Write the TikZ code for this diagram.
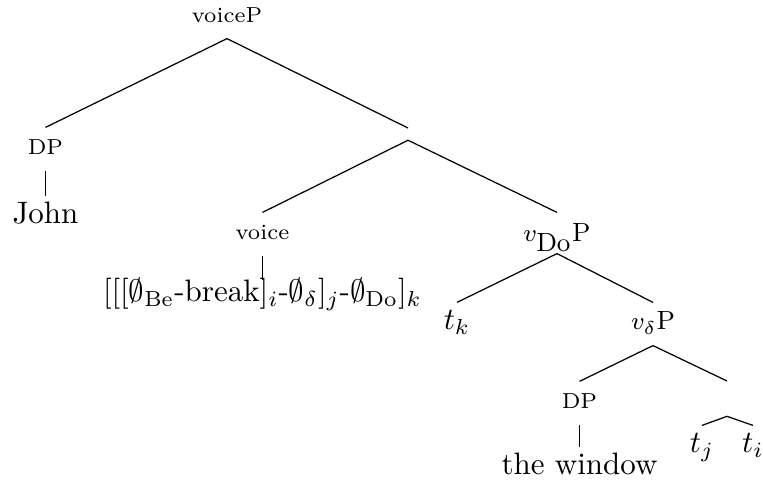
\documentclass[tikz,border=0pt]{standalone}
\usepackage{amsmath}
\begin{document}
\begin{tikzpicture}[x=0.3226pt,y=-0.3226pt,
  lab/.style={inner sep=0pt, font=\scriptsize, text height=8.7pt, text depth=4.84pt, anchor=base},
  vlab/.style={lab, font=\fontsize{8.5}{10}\selectfont},
  leaf/.style={inner sep=0pt, font=\normalsize, text height=8.7pt, text depth=2.5pt, anchor=base},
  hole/.style={inner sep=0pt, minimum size=0pt, text height=0pt, anchor=north},
  br/.style={line width=0.4pt}]
\useasboundingbox (0,0) rectangle (763,482);
% nodes
\node[lab] (voiceP) at (227,23) {voiceP};
\node[hole, text depth=3.55pt] (x1) at (408,128) {};
\node[lab] (dp1) at (45.5,155) {DP};
\node[leaf] (john) at (45.5,224) {John};
\node[lab] (voice) at (262.5,240) {voice};
\node[leaf, text height=7pt] (form) at (262.5,302)
  {$[[[\emptyset_{\text{Be}}\text{-break}]_i\text{-}\emptyset_\delta]_j\text{-}\emptyset_{\text{Do}}]_k$};
\node[vlab, text height=9.35pt, text depth=3.55pt] (vdo) at (557,242) {$v_{\mbox{Do}}$P};
\node[leaf] (tk) at (457,330) {$t_k$};
\node[vlab] (vdelta) at (653,330) {$v_\delta$P};
\node[lab] (dp2) at (579.5,409) {DP};
\node[leaf] (win) at (579.5,475) {the window};
\node[hole, text depth=11pt] (x2) at (727,381) {};
\node[leaf] (tj) at (702,453) {$t_j$};
\node[leaf] (ti) at (753,453) {$t_i$};
% branches
\draw[br] (voiceP.south) -- (dp1.north);
\draw[br] (voiceP.south) -- (x1.north);
\draw[br] (dp1.south) -- (john.north);
\draw[br] (x1.south) -- (voice.north);
\draw[br] (x1.south) -- (vdo.north);
\draw[br] (voice.south) -- (form.north);
\draw[br] (vdo.south) -- (tk.north);
\draw[br] (vdo.south) -- (vdelta.north);
\draw[br] (vdelta.south) -- (dp2.north);
\draw[br] (vdelta.south) -- (x2.north);
\draw[br] (dp2.south) -- (win.north);
\draw[br] (x2.south) -- (tj.north);
\draw[br] (x2.south) -- (ti.north);
\end{tikzpicture}
\end{document}
